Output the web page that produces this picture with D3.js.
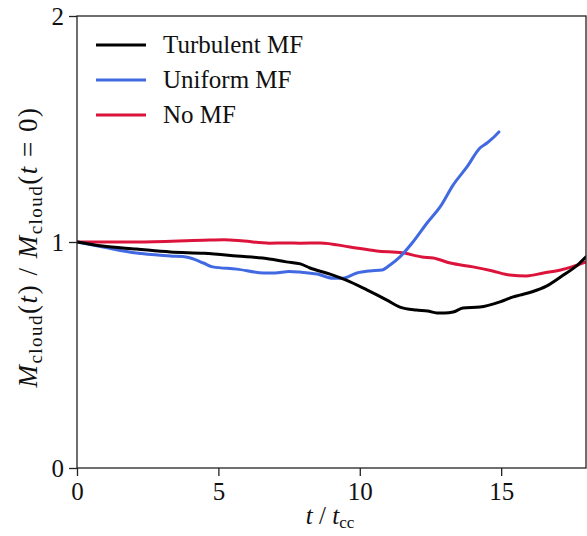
<!DOCTYPE html>
<html><head><meta charset="utf-8">
<script src="https://cdn.jsdelivr.net/npm/d3@7"></script>
<style>body{margin:0;background:#fff}svg{display:block}text{font-family:"Liberation Serif","DejaVu Serif",serif}</style>
</head><body><svg id="c" width="587" height="536"></svg>
<script>
const seriesNames = ["Turbulent MF", "Uniform MF", "No MF"];
const seriesColors = ["#000000", "#4169E1", "#DC143C"];
const xTicks = [0, 5, 10, 15];
const yTicks = [0, 1, 2];

const turbT = [0, 0.9, 2.1, 3.3, 4.5, 5.65, 6.8, 7.4, 7.9, 8.24, 8.95, 9.5, 10.25, 10.96, 11.42, 12.0, 12.4, 12.73, 13.0, 13.3, 13.65, 14.25, 14.96, 15.4, 15.66, 16.1, 16.6, 17.2, 17.7, 18.0];
const turbV = [1.0, 0.982, 0.969, 0.956, 0.95, 0.938, 0.925, 0.912, 0.903, 0.885, 0.858, 0.832, 0.788, 0.743, 0.712, 0.699, 0.695, 0.686, 0.686, 0.69, 0.708, 0.712, 0.735, 0.756, 0.765, 0.78, 0.805, 0.854, 0.898, 0.934];

const unifT = [0, 0.92, 2.1, 3.3, 3.9, 4.47, 4.8, 5.65, 6.6, 7.0, 7.5, 7.89, 8.5, 9.05, 9.4, 9.9, 10.36, 10.78, 11.07, 11.42, 11.88, 12.38, 12.84, 13.3, 13.79, 14.25, 14.5, 14.67, 14.92];
const unifV = [1.0, 0.978, 0.951, 0.938, 0.933, 0.907, 0.89, 0.88, 0.863, 0.863, 0.87, 0.867, 0.858, 0.84, 0.84, 0.863, 0.872, 0.876, 0.898, 0.934, 1.0, 1.084, 1.155, 1.252, 1.332, 1.416, 1.438, 1.456, 1.487];

const nomfT = [0, 2.1, 4.47, 5.2, 5.9, 6.8, 7.4, 7.89, 8.6, 9.65, 10.6, 11.5, 12.2, 12.6, 13.2, 14.0, 14.7, 15.3, 15.9, 16.5, 17.1, 17.5, 18.0];
const nomfV = [1.0, 1.0, 1.008, 1.01, 1.004, 0.995, 0.996, 0.995, 0.996, 0.978, 0.96, 0.952, 0.934, 0.929, 0.907, 0.89, 0.872, 0.854, 0.85, 0.863, 0.876, 0.89, 0.912];

const seriesT = [turbT, unifT, nomfT];
const seriesV = [turbV, unifV, nomfV];

const svg = d3.select("#c");
const L = 77, R = 586, T = 16, B = 468;
const x = d3.scaleLinear().domain([0, 18]).range([L, R]);
const y = d3.scaleLinear().domain([0, 2]).range([B, T]);

svg.append("defs").append("clipPath").attr("id", "clip")
  .append("rect").attr("x", L).attr("y", T).attr("width", R - L).attr("height", B - T);

const line = d3.line().x(d => x(d[0])).y(d => y(d[1])).curve(d3.curveMonotoneX);
const g = svg.append("g").attr("clip-path", "url(#clip)");
[2, 1, 0].forEach(i => {
  const pts = seriesT[i].map((t, k) => [t, seriesV[i][k]]);
  g.append("path").attr("d", line(pts)).attr("fill", "none")
    .attr("stroke", seriesColors[i]).attr("stroke-width", 3)
    .attr("stroke-linejoin", "round").attr("stroke-linecap", "round");
});

// frame
svg.append("rect").attr("x", L).attr("y", T).attr("width", R - L).attr("height", B - T)
  .attr("fill", "none").attr("stroke", "#222").attr("stroke-width", 1.3);

const xAxis = svg.append("g").attr("transform", `translate(0,${B})`)
  .call(d3.axisBottom(x).tickValues(xTicks).tickSize(8).tickPadding(6).tickFormat(d3.format("d")));
const yAxis = svg.append("g").attr("transform", `translate(${L},0)`)
  .call(d3.axisLeft(y).tickValues(yTicks).tickSize(8).tickPadding(5).tickFormat(d3.format("d")));
[xAxis, yAxis].forEach(a => {
  a.select(".domain").remove();
  a.selectAll(".tick line").attr("stroke", "#222").attr("stroke-width", 1.3);
  a.selectAll(".tick text").attr("font-family", "Liberation Serif, serif").attr("font-size", 25).attr("fill", "#111");
});

// legend
const leg = svg.append("g");
seriesNames.forEach((n, i) => {
  const yy = 45 + i * 35;
  leg.append("line").attr("x1", 96).attr("x2", 146).attr("y1", yy).attr("y2", yy)
    .attr("stroke", seriesColors[i]).attr("stroke-width", 3);
  leg.append("text").attr("x", 163).attr("y", yy + 8).attr("font-size", 25).attr("fill", "#111").text(n);
});

// x label
const xl = svg.append("text").attr("x", 330).attr("y", 524).attr("text-anchor", "middle").attr("font-size", 25).attr("fill", "#111");
xl.append("tspan").attr("font-style", "italic").text("t");
xl.append("tspan").text(" / ");
xl.append("tspan").attr("font-style", "italic").text("t");
xl.append("tspan").attr("font-size", 17).attr("dy", 4).text("cc");

// y label
const yl = svg.append("text").attr("transform", "translate(37,247) rotate(-90)").attr("text-anchor", "middle")
  .attr("font-size", 27).attr("letter-spacing", 1.5).attr("fill", "#111");
yl.append("tspan").attr("font-style", "italic").text("M");
yl.append("tspan").attr("font-size", 19).attr("dy", 5).text("cloud");
yl.append("tspan").attr("dy", -5).text("(");
yl.append("tspan").attr("font-style", "italic").text("t");
yl.append("tspan").text(") / ");
yl.append("tspan").attr("font-style", "italic").text("M");
yl.append("tspan").attr("font-size", 19).attr("dy", 5).text("cloud");
yl.append("tspan").attr("dy", -5).text("(");
yl.append("tspan").attr("font-style", "italic").text("t");
yl.append("tspan").text(" = 0)");
</script></body></html>
